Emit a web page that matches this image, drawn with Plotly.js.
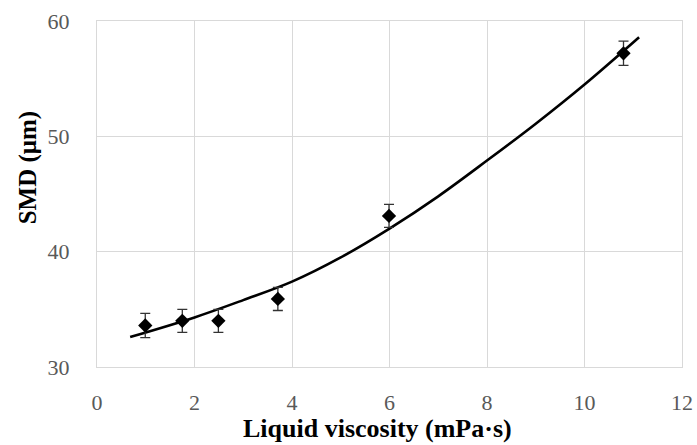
<!DOCTYPE html>
<html>
<head>
<meta charset="utf-8">
<script src="https://cdn.plot.ly/plotly-3.0.1.min.js"></script>
<style>html,body{margin:0;padding:0;background:#fff;}#chart{width:697px;height:445px;}</style>
</head>
<body>
<div id="chart"></div>
<script>
// Measured points
const viscosity = [0.99, 1.75, 2.49, 3.71, 5.99, 10.8];
const smd = [33.6, 34.0, 34.0, 35.9, 43.1, 57.2];
const smdError = [1.05, 1.0, 1.0, 1.0, 1.0, 1.05];
// Trendline
const trendX = [0.68, 2, 3, 4, 5, 6, 7, 8, 9, 10, 11.12];
const trendY = [32.6, 34.3, 35.8, 37.4, 39.5, 42.0, 44.8, 47.9, 51.1, 54.5, 58.6];
const xTicks = [0, 2, 4, 6, 8, 10, 12];
const yTicks = [30, 40, 50, 60];

const serif = "Liberation Serif, Times New Roman, serif";

const traces = [
  {
    x: trendX, y: trendY, type: 'scatter', mode: 'lines',
    line: {color: '#000', width: 2.6, shape: 'spline', smoothing: 1},
    hoverinfo: 'skip', showlegend: false
  },
  {
    x: viscosity, y: smd, type: 'scatter', mode: 'markers',
    marker: {symbol: 'diamond', size: 11, color: '#000'},
    error_y: {type: 'data', array: smdError, visible: true, color: '#333', thickness: 1.3, width: 5},
    showlegend: false
  }
];

const layout = {
  width: 697, height: 445,
  margin: {l: 97, r: 15, t: 21, b: 78},
  paper_bgcolor: '#fff', plot_bgcolor: '#fff',
  showlegend: false,
  xaxis: {
    range: [0, 12], tickvals: xTicks, ticktext: xTicks.map(String),
    showgrid: true, gridcolor: '#d9d9d9', gridwidth: 1,
    showline: true, linecolor: '#d9d9d9', linewidth: 1, mirror: true,
    zeroline: false, ticks: '', ticklabelstandoff: 16,
    tickfont: {family: serif, size: 22, color: '#595959'}
  },
  yaxis: {
    range: [30, 60], tickvals: yTicks, ticktext: yTicks.map(String),
    showgrid: true, gridcolor: '#d9d9d9', gridwidth: 1,
    showline: true, linecolor: '#d9d9d9', linewidth: 1, mirror: true,
    zeroline: false, ticks: '', ticklabelstandoff: 22,
    tickfont: {family: serif, size: 22, color: '#595959'}
  },
  annotations: [
    {
      text: 'SMD (μm)', textangle: -90, showarrow: false,
      xref: 'paper', yref: 'paper', x: -0.118, y: 0.577, xanchor: 'center', yanchor: 'middle',
      font: {family: serif, size: 25, color: '#000', weight: 'bold'}
    },
    {
      text: 'Liquid viscosity (mPa·s)', showarrow: false,
      xref: 'paper', yref: 'paper', x: 0.479, y: -0.177, xanchor: 'center', yanchor: 'middle',
      font: {family: serif, size: 26, color: '#000', weight: 'bold'}
    }
  ]
};

Plotly.newPlot('chart', traces, layout, {displayModeBar: false, staticPlot: true});
</script>
</body>
</html>
